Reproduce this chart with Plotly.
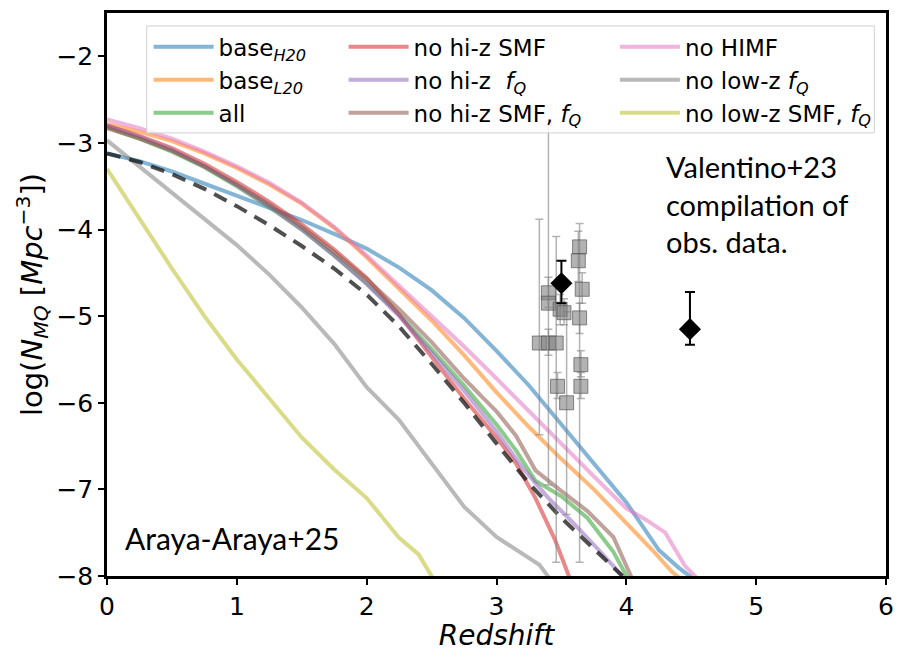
import plotly.graph_objects as go

# ---------------- data ----------------
names = ["base<sub><i>H20</i></sub>", "base<sub><i>L20</i></sub>", "all",
         "no hi-z SMF", "no hi-z  <i>f<sub>Q</sub></i>", "no hi-z SMF, <i>f<sub>Q</sub></i>",
         "no HIMF", "no low-z <i>f<sub>Q</sub></i>", "no low-z SMF, <i>f<sub>Q</sub></i>"]
colors = ["#1f77b4", "#ff7f0e", "#2ca02c", "#d62728", "#9467bd", "#8c564b",
          "#e377c2", "#7f7f7f", "#bcbd22"]

x_h20 = [0, 0.25, 0.5, 0.75, 1.0, 1.25, 1.5, 1.75, 2.0, 2.25, 2.5, 2.75, 3.0, 3.25, 3.5, 3.75, 4.0, 4.25, 4.4, 4.53]
y_h20 = [-3.12, -3.21, -3.33, -3.47, -3.6, -3.74, -3.89, -4.05, -4.22, -4.44, -4.7, -5.02, -5.4, -5.8, -6.25, -6.7, -7.15, -7.7, -7.9, -8.05]

x_l20 = [0, 0.25, 0.5, 0.75, 1.0, 1.25, 1.5, 1.75, 2.0, 2.25, 2.5, 2.75, 3.0, 3.25, 3.5, 3.75, 4.0, 4.2, 4.35, 4.43]
y_l20 = [-2.78, -2.87, -2.98, -3.12, -3.29, -3.48, -3.7, -3.98, -4.32, -4.68, -5.05, -5.45, -5.88, -6.28, -6.65, -7.0, -7.38, -7.7, -7.95, -8.05]

x_all = [0, 0.25, 0.5, 0.75, 1.0, 1.25, 1.5, 1.75, 2.0, 2.25, 2.5, 2.75, 3.0, 3.15, 3.3, 3.5, 3.7, 3.9, 4.02]
y_all = [-2.82, -2.95, -3.1, -3.28, -3.5, -3.74, -4.0, -4.3, -4.62, -4.98, -5.38, -5.8, -6.25, -6.55, -6.9, -7.08, -7.33, -7.72, -8.05]

x_nohismf = [0, 0.25, 0.5, 0.75, 1.0, 1.25, 1.5, 1.75, 2.0, 2.25, 2.5, 2.75, 3.0, 3.15, 3.3, 3.45, 3.57]
y_nohismf = [-2.8, -2.92, -3.06, -3.24, -3.45, -3.68, -3.94, -4.23, -4.56, -4.98, -5.47, -5.95, -6.4, -6.7, -7.1, -7.58, -8.05]

x_nohifq = [0, 0.25, 0.5, 0.75, 1.0, 1.25, 1.5, 1.75, 2.0, 2.25, 2.5, 2.75, 3.0, 3.2, 3.4, 3.6, 3.8, 4.0]
y_nohifq = [-2.8, -2.93, -3.08, -3.27, -3.49, -3.73, -4.0, -4.3, -4.63, -5.0, -5.42, -5.86, -6.33, -6.75, -7.1, -7.4, -7.72, -8.05]

x_nohismffq = [0, 0.25, 0.5, 0.75, 1.0, 1.25, 1.5, 1.75, 2.0, 2.25, 2.5, 2.75, 2.9, 3.0, 3.15, 3.3, 3.5, 3.7, 3.9, 4.05]
y_nohismffq = [-2.83, -2.95, -3.09, -3.27, -3.48, -3.71, -3.97, -4.26, -4.57, -4.92, -5.3, -5.72, -5.95, -6.1, -6.38, -6.78, -7.02, -7.25, -7.55, -8.05]

x_nohimf = [0, 0.25, 0.5, 0.75, 1.0, 1.25, 1.5, 1.75, 2.0, 2.25, 2.5, 2.75, 3.0, 3.25, 3.5, 3.75, 4.0, 4.15, 4.3, 4.45, 4.56]
y_nohimf = [-2.73, -2.83, -2.95, -3.1, -3.27, -3.46, -3.69, -3.97, -4.3, -4.65, -5.0, -5.35, -5.72, -6.1, -6.47, -6.85, -7.22, -7.35, -7.5, -7.88, -8.05]

x_nolowfq = [0, 0.25, 0.5, 0.75, 1.0, 1.25, 1.5, 1.75, 2.0, 2.25, 2.5, 2.75, 3.0, 3.2, 3.33, 3.42]
y_nolowfq = [-2.97, -3.27, -3.57, -3.88, -4.18, -4.52, -4.9, -5.32, -5.82, -6.2, -6.7, -7.2, -7.55, -7.75, -7.87, -8.05]

x_nolowsmffq = [0, 0.25, 0.5, 0.75, 1.0, 1.25, 1.5, 1.75, 2.0, 2.25, 2.4, 2.52]
y_nolowsmffq = [-3.3, -3.88, -4.45, -5.0, -5.5, -5.95, -6.4, -6.77, -7.1, -7.56, -7.75, -8.05]

x_dashed = [0, 0.25, 0.5, 0.75, 1.0, 1.25, 1.5, 1.75, 2.0, 2.25, 2.5, 2.75, 3.0, 3.25, 3.5, 3.75, 3.97]
y_dashed = [-3.12, -3.22, -3.36, -3.53, -3.73, -3.95, -4.19, -4.45, -4.75, -5.12, -5.55, -6.0, -6.47, -6.93, -7.33, -7.68, -8.0]

series_x = [x_h20, x_l20, x_all, x_nohismf, x_nohifq, x_nohismffq, x_nohimf, x_nolowfq, x_nolowsmffq]
series_y = [y_h20, y_l20, y_all, y_nohismf, y_nohifq, y_nohismffq, y_nohimf, y_nolowfq, y_nolowsmffq]

# observational compilation (grey squares) with error-bar ends
obs_x = [3.33, 3.40, 3.46, 3.40, 3.40, 3.49, 3.52, 3.47, 3.54, 3.64, 3.63, 3.66, 3.64, 3.65, 3.65]
obs_y = [-5.31, -5.31, -5.31, -4.73, -4.85, -4.92, -4.96, -5.81, -6.0, -4.20, -4.36, -4.69, -5.02, -5.56, -5.81]
obs_hi = [-3.88, -5.15, -4.08, -4.55, -2.80, -4.75, -4.80, -5.65, -4.95, -3.93, -4.02, -4.5, -4.85, -5.4, -5.65]
obs_lo = [-6.37, -5.45, -7.84, -4.90, -6.95, -5.10, -5.10, -5.95, -7.29, -7.84, -4.60, -4.85, -5.2, -5.7, -5.95]

# black diamonds
dia_x = [3.50, 4.49]
dia_y = [-4.62, -5.15]
dia_hi = [-4.36, -4.72]
dia_lo = [-4.85, -5.33]

# ---------------- figure ----------------
def rgba(hexc, a):
    h = hexc.lstrip("#")
    return "rgba(%d,%d,%d,%.2f)" % (int(h[0:2], 16), int(h[2:4], 16), int(h[4:6], 16), a)

fig = go.Figure()
legends = ["legend", "legend", "legend", "legend2", "legend2", "legend2", "legend3", "legend3", "legend3"]
for i in range(9):
    fig.add_trace(go.Scatter(x=series_x[i], y=series_y[i], mode="lines", name=names[i],
                             line=dict(color=rgba(colors[i], 0.55), width=4),
                             legend=legends[i], legendgroup="g%d" % i))

fig.add_trace(go.Scatter(x=x_dashed, y=y_dashed, mode="lines", showlegend=False,
                         line=dict(color="rgba(20,20,20,0.75)", width=4, dash="14px,9px")))

fig.add_trace(go.Scatter(
    x=obs_x, y=obs_y, mode="markers", showlegend=False,
    marker=dict(symbol="square", size=14, color="rgba(128,128,128,0.6)",
                line=dict(color="rgba(70,70,70,0.6)", width=1)),
    error_y=dict(type="data", symmetric=False,
                 array=[h - y for h, y in zip(obs_hi, obs_y)],
                 arrayminus=[y - l for l, y in zip(obs_lo, obs_y)],
                 color="rgba(128,128,128,0.6)", thickness=1.5, width=4)))

fig.add_trace(go.Scatter(
    x=dia_x, y=dia_y, mode="markers", showlegend=False,
    marker=dict(symbol="diamond", size=17, color="black"),
    error_y=dict(type="data", symmetric=False,
                 array=[h - y for h, y in zip(dia_hi, dia_y)],
                 arrayminus=[y - l for l, y in zip(dia_lo, dia_y)],
                 color="black", thickness=2, width=5)))

leg_common = dict(bgcolor="rgba(0,0,0,0)", borderwidth=0, orientation="v",
                  yanchor="top", xanchor="left", tracegroupgap=0, itemwidth=60,
                  font=dict(family="DejaVu Sans", size=23, color="black"))
fig.update_layout(
    legend=dict(x=0.0534, y=0.978, **leg_common),
    legend2=dict(x=0.3037, y=0.978, **leg_common),
    legend3=dict(x=0.652, y=0.978, **leg_common),
)

# legend frame
fig.add_shape(type="rect", xref="paper", yref="paper", x0=0.051, x1=0.985, y0=0.787, y1=0.977,
              line=dict(color="#d0d0d0", width=1), fillcolor="rgba(255,255,255,0.8)", layer="above")

fig.add_annotation(x=4.29, y=-3.71, xref="x", yref="y", xanchor="left", yanchor="middle",
                   text="Valentino+23<br>compilation of<br>obs. data.", showarrow=False, align="left",
                   font=dict(family="Lato", size=29, color="black"))
fig.add_annotation(x=0.12, y=-7.56, xref="x", yref="y", xanchor="left", yanchor="middle",
                   text="Araya-Araya+25", showarrow=False, align="left",
                   font=dict(family="Lato", size=30, color="black"))

axis_common = dict(showline=True, linecolor="black", linewidth=2.5, mirror=True,
                   ticks="outside", ticklen=6, tickwidth=1.5, tickcolor="black",
                   showgrid=False, zeroline=False,
                   tickfont=dict(family="DejaVu Sans", size=25, color="black"))
fig.update_xaxes(range=[0, 6], tickvals=[0, 1, 2, 3, 4, 5, 6],
                 title=dict(text="<i>Redshift</i>", font=dict(family="DejaVu Sans", size=28, color="black"), standoff=2),
                 **axis_common)
fig.update_yaxes(range=[-8, -1.5], tickvals=[-8, -7, -6, -5, -4, -3, -2],
                 title=dict(text="log(<i>N</i><sub><i>MQ</i></sub> [<i>Mpc</i><sup>−3</sup>])",
                            font=dict(family="DejaVu Sans", size=29, color="black"), standoff=6),
                 **axis_common)

fig.update_layout(width=904, height=652, margin=dict(l=107, r=10, t=10, b=70),
                  plot_bgcolor="white", paper_bgcolor="white", showlegend=True)

fig.write_html("out.html")
